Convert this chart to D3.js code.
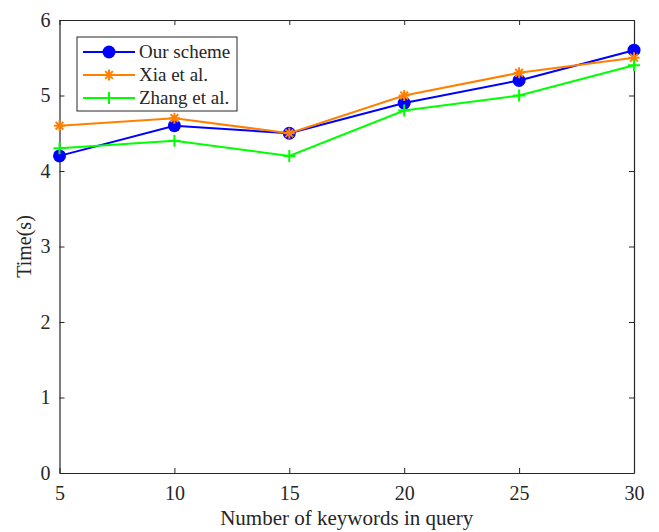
<!DOCTYPE html>
<html>
<head>
<meta charset="utf-8">
<style>
  body { margin: 0; background: #fff; }
  svg text { font-family: "Liberation Serif", "Times New Roman", serif; fill: #262626; }
</style>
</head>
<body>
<script src="https://d3js.org/d3.v7.min.js"></script>
<script>
  const keywords = [5, 10, 15, 20, 25, 30];
  const ourScheme = [4.2, 4.6, 4.5, 4.9, 5.2, 5.6];
  const xia = [4.6, 4.7, 4.5, 5.0, 5.3, 5.5];
  const zhang = [4.3, 4.4, 4.2, 4.8, 5.0, 5.4];
  const yTicks = [0, 1, 2, 3, 4, 5, 6];

  const series = [
    { name: 'Our scheme', values: ourScheme, color: '#0000ff', marker: 'circle' },
    { name: 'Xia et al.', values: xia, color: '#ff8000', marker: 'star' },
    { name: 'Zhang et al.', values: zhang, color: '#00ff00', marker: 'plus' }
  ];

  const width = 659, height = 532;
  const margin = { top: 20, right: 25, bottom: 59, left: 59.5 };
  const serif = '"Liberation Serif", "Times New Roman", serif';

  const svg = d3.select('body').append('svg')
    .attr('width', width)
    .attr('height', height);

  const x = d3.scaleLinear().domain([5, 30]).range([margin.left, width - margin.right]);
  const y = d3.scaleLinear().domain([0, 6]).range([height - margin.bottom, margin.top]);

  const axisColor = '#262626';
  const tick = 5;

  // axes (box with inward ticks)
  const axBottom = svg.append('g')
    .attr('transform', `translate(0,${y(0)})`)
    .call(d3.axisBottom(x).tickValues(keywords).tickFormat(d3.format('d'))
      .tickSizeInner(-tick).tickSizeOuter(0).tickPadding(13));
  const axTop = svg.append('g')
    .attr('transform', `translate(0,${y(6)})`)
    .call(d3.axisTop(x).tickValues(keywords).tickSizeInner(-tick).tickSizeOuter(0).tickFormat(''));
  const axLeft = svg.append('g')
    .attr('transform', `translate(${x(5)},0)`)
    .call(d3.axisLeft(y).tickValues(yTicks).tickFormat(d3.format('d'))
      .tickSizeInner(-tick).tickSizeOuter(0).tickPadding(9));
  const axRight = svg.append('g')
    .attr('transform', `translate(${x(30)},0)`)
    .call(d3.axisRight(y).tickValues(yTicks).tickSizeInner(-tick).tickSizeOuter(0).tickFormat(''));

  [axBottom, axTop, axLeft, axRight].forEach(g => {
    g.attr('font-family', serif).attr('font-size', 20);
    g.select('.domain').attr('stroke', axisColor).attr('stroke-width', 1.2);
    g.selectAll('.tick line').attr('stroke', axisColor);
    g.selectAll('.tick text').attr('fill', axisColor);
  });

  // axis labels
  svg.append('text')
    .attr('x', (x(5) + x(30)) / 2)
    .attr('y', 525)
    .attr('text-anchor', 'middle')
    .attr('font-family', serif)
    .attr('font-size', 21)
    .text('Number of keywords in query');

  svg.append('text')
    .attr('transform', `translate(31,${(y(0) + y(6)) / 2}) rotate(-90)`)
    .attr('text-anchor', 'middle')
    .attr('font-family', serif)
    .attr('font-size', 20)
    .text('Time(s)');

  function drawMarker(g, type, color) {
    if (type === 'circle') {
      g.append('circle').attr('r', 6.5).attr('fill', color);
    } else if (type === 'star') {
      const s = 5.5;
      g.append('path')
        .attr('d', `M${-s},0H${s}M0,${-s}V${s}M${-s * 0.7},${-s * 0.7}L${s * 0.7},${s * 0.7}M${-s * 0.7},${s * 0.7}L${s * 0.7},${-s * 0.7}`)
        .attr('stroke', color).attr('stroke-width', 2).attr('fill', 'none');
    } else {
      const s = 6;
      g.append('path')
        .attr('d', `M${-s},0H${s}M0,${-s}V${s}`)
        .attr('stroke', color).attr('stroke-width', 2).attr('fill', 'none');
    }
  }

  const line = d3.line()
    .x((d, i) => x(keywords[i]))
    .y(d => y(d));

  series.forEach(s => {
    svg.append('path')
      .datum(s.values)
      .attr('fill', 'none')
      .attr('stroke', s.color)
      .attr('stroke-width', 2)
      .attr('d', line);
    s.values.forEach((v, i) => {
      const g = svg.append('g').attr('transform', `translate(${x(keywords[i])},${y(v)})`);
      drawMarker(g, s.marker, s.color);
    });
  });

  // legend
  const legend = svg.append('g').attr('transform', 'translate(77,37)');
  legend.append('rect')
    .attr('width', 160).attr('height', 74)
    .attr('fill', '#fff').attr('stroke', axisColor).attr('stroke-width', 1);

  series.forEach((s, i) => {
    const row = legend.append('g').attr('transform', `translate(0,${15 + i * 23})`);
    row.append('line')
      .attr('x1', 6).attr('x2', 58).attr('y1', 0).attr('y2', 0)
      .attr('stroke', s.color).attr('stroke-width', 2);
    drawMarker(row.append('g').attr('transform', 'translate(32,0)'), s.marker, s.color);
    row.append('text')
      .attr('x', 62).attr('y', 6)
      .attr('font-family', serif)
      .attr('font-size', 19)
      .text(s.name);
  });
</script>
</body>
</html>
